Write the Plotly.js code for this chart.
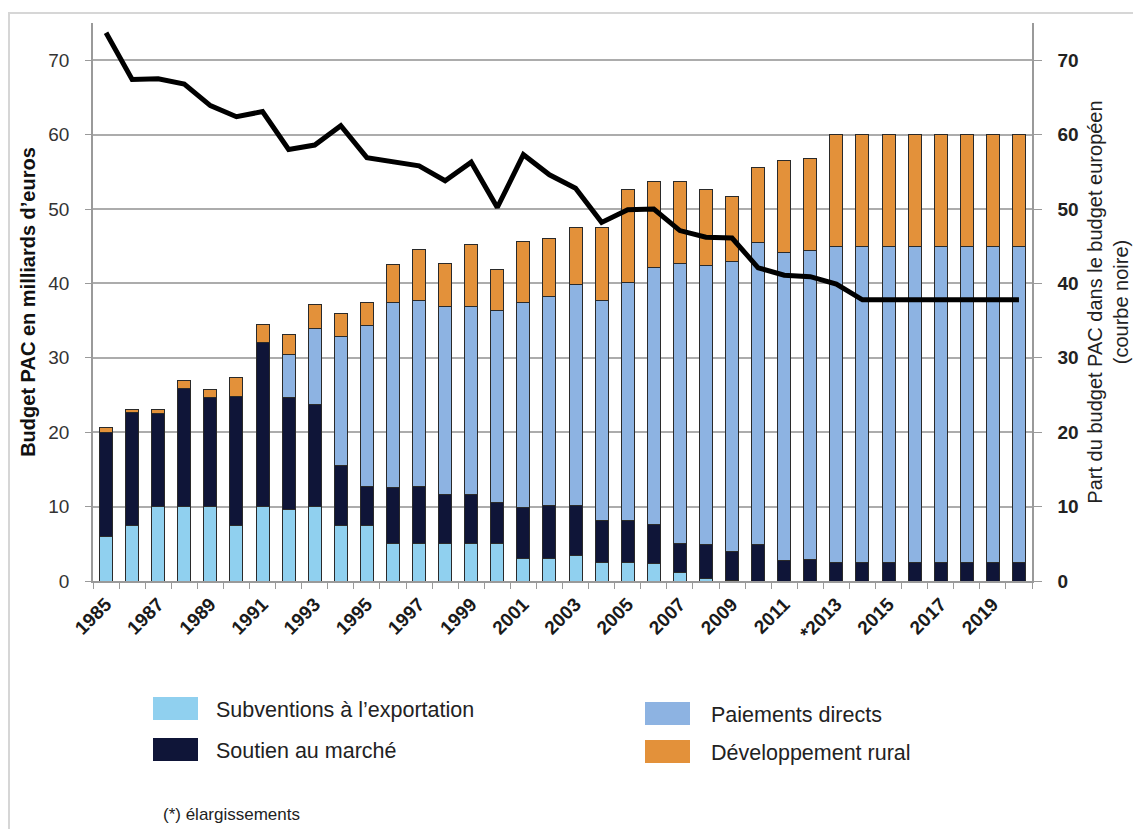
<!DOCTYPE html>
<html>
<head>
<meta charset="utf-8">
<script src="https://cdn.plot.ly/plotly-3.0.1.min.js"></script>
<style>
html, body { margin: 0; padding: 0; background: #ffffff; }
#chart { width: 1133px; height: 829px; }
</style>
</head>
<body>
<div id="chart"></div>
<script>
// ---------- DATA ----------
const years = [1985, 1986, 1987, 1988, 1989, 1990, 1991, 1992, 1993, 1994, 1995, 1996,
               1997, 1998, 1999, 2000, 2001, 2002, 2003, 2004, 2005, 2006, 2007, 2008,
               2009, 2010, 2011, 2012, 2013, 2014, 2015, 2016, 2017, 2018, 2019, 2020];

const tickYears = [1985, 1987, 1989, 1991, 1993, 1995, 1997, 1999, 2001, 2003,
                   2005, 2007, 2009, 2011, 2013, 2015, 2017, 2019];
const tickLabels = ["1985", "1987", "1989", "1991", "1993", "1995", "1997", "1999", "2001", "2003",
                    "2005", "2007", "2009", "2011", "*2013", "2015", "2017", "2019"];

// Subventions à l'exportation (milliards d'euros)
const exportSubsidies = [6.0, 7.5, 10.0, 10.0, 10.0, 7.5, 10.0, 9.6, 10.0, 7.5, 7.5, 5.0,
                         5.0, 5.0, 5.0, 5.0, 3.0, 3.0, 3.4, 2.5, 2.5, 2.3, 1.2, 0.3,
                         0.1, 0, 0, 0, 0, 0, 0, 0, 0, 0, 0, 0];
// Soutien au marché
const marketSupport = [14.0, 15.1, 12.5, 15.9, 14.7, 17.3, 22.1, 15.1, 13.7, 8.0, 5.2, 7.6,
                       7.7, 6.6, 6.6, 5.5, 6.9, 7.1, 6.7, 5.6, 5.6, 5.3, 3.8, 4.6,
                       3.8, 4.9, 2.7, 2.9, 2.5, 2.5, 2.5, 2.5, 2.5, 2.5, 2.5, 2.5];
// Paiements directs
const directPayments = [0, 0, 0, 0, 0, 0, 0, 5.8, 10.2, 17.3, 21.7, 24.8,
                        25.0, 25.3, 25.3, 25.9, 27.5, 28.1, 29.8, 29.6, 32.0, 34.5, 37.7, 37.5,
                        39.0, 40.6, 41.4, 41.5, 42.5, 42.5, 42.5, 42.5, 42.5, 42.5, 42.5, 42.5];
// Développement rural
const ruralDevelopment = [0.6, 0.4, 0.6, 1.0, 1.1, 2.5, 2.4, 2.6, 3.3, 3.2, 3.0, 5.1,
                          6.9, 5.8, 8.3, 5.5, 8.2, 7.8, 7.6, 9.8, 12.5, 11.6, 11.0, 10.2,
                          8.8, 10.1, 12.4, 12.4, 15.0, 15.0, 15.0, 15.0, 15.0, 15.0, 15.0, 15.0];
// Part du budget PAC dans le budget européen (%)
const capShare = [73.7, 67.4, 67.5, 66.8, 63.9, 62.4, 63.1, 58.0, 58.6, 61.2, 56.9, 56.3,
                  55.8, 53.8, 56.3, 50.2, 57.3, 54.6, 52.8, 48.2, 49.9, 50.0, 47.1, 46.2,
                  46.1, 42.1, 41.1, 40.9, 39.9, 37.8, 37.8, 37.8, 37.8, 37.8, 37.8, 37.8];

const yTicks = [0, 10, 20, 30, 40, 50, 60, 70];

const seriesNames = ["Subventions à l’exportation", "Soutien au marché",
                     "Paiements directs", "Développement rural"];
const seriesColors = ["#90d0ef", "#0f1538", "#8db3e2", "#e3913a"];
const seriesValues = [exportSubsidies, marketSupport, directPayments, ruralDevelopment];

const footnote = "(*) élargissements";
const leftTitle = "Budget PAC en milliards d’euros";
const rightTitle = "Part du budget PAC dans le budget européen<br>(courbe noire)";

// ---------- LAYOUT HELPERS (pixel -> paper) ----------
const W = 1133, H = 829;
const PL = 93, PR = 1032, PT = 23, PB = 581;
const px = x => (x - PL) / (PR - PL);
const py = y => (PB - y) / (PB - PT);
const FONT = "Liberation Sans, Arial, Helvetica, sans-serif";

// ---------- TRACES ----------
const traces = seriesValues.map((vals, i) => ({
  type: "bar",
  x: years,
  y: vals,
  name: seriesNames[i],
  marker: { color: seriesColors[i], line: { color: "#2a2a2a", width: 1 } },
  showlegend: false,
  hoverinfo: "x+y+name"
}));

traces.push({
  type: "scatter",
  mode: "lines",
  x: years,
  y: capShare,
  yaxis: "y2",
  name: "Part du budget PAC",
  line: { color: "#000000", width: 5, shape: "linear" },
  showlegend: false
});

// ---------- MANUAL LEGEND ----------
const legendPos = [
  { sx: 153, sy: 697, tx: 214, ty: 710 },
  { sx: 153, sy: 738, tx: 214, ty: 751 },
  { sx: 645, sy: 702, tx: 709, ty: 715 },
  { sx: 645, sy: 740, tx: 709, ty: 753 }
];
const shapes = [];
const annotations = [];
legendPos.forEach((p, i) => {
  shapes.push({
    type: "rect", xref: "paper", yref: "paper",
    x0: px(p.sx), x1: px(p.sx + 45), y0: py(p.sy), y1: py(p.sy + 23),
    fillcolor: seriesColors[i], line: { width: 0 }
  });
  annotations.push({
    xref: "paper", yref: "paper", x: px(p.tx), y: py(p.ty),
    xanchor: "left", yanchor: "middle", showarrow: false,
    text: seriesNames[i], font: { family: FONT, size: 21.5, color: "#222222" }
  });
});
annotations.push({
  xref: "paper", yref: "paper", x: px(161), y: py(814),
  xanchor: "left", yanchor: "middle", showarrow: false,
  text: footnote, font: { family: FONT, size: 17, color: "#222222" }
});
// outer frame
shapes.push({
  type: "rect", xref: "paper", yref: "paper", layer: "below",
  x0: px(9), x1: px(1160), y0: py(860), y1: py(13),
  line: { color: "#d6d6d6", width: 2 }, fillcolor: "rgba(0,0,0,0)"
});

const layout = {
  width: W, height: H,
  margin: { l: PL, r: W - PR, t: PT, b: H - PB, pad: 0 },
  paper_bgcolor: "#ffffff",
  plot_bgcolor: "#ffffff",
  font: { family: FONT, color: "#222222" },
  barmode: "stack",
  bargap: 0.5,
  showlegend: false,
  xaxis: {
    range: [1984.5, 2020.5],
    tickmode: "array",
    tickvals: tickYears,
    ticktext: tickLabels,
    tickangle: -45,
    tickfont: { family: FONT, size: 19, color: "#1a1a1a", weight: "bold" },
    ticks: "outside", ticklen: 3, tickcolor: "rgba(0,0,0,0)",
    minor: { tick0: 1984.5, dtick: 1, ticks: "outside", ticklen: 6, tickcolor: "#9a9a9a", tickwidth: 1, showgrid: false },
    showline: true, linecolor: "#9a9a9a", linewidth: 1.5,
    showgrid: false, zeroline: false, fixedrange: true
  },
  yaxis: {
    range: [0, 75],
    tickmode: "array",
    tickvals: yTicks,
    ticks: "outside", ticklen: 6, tickcolor: "#9a9a9a",
    ticklabelstandoff: 12,
    tickfont: { family: FONT, size: 19, color: "#333333" },
    showline: true, linecolor: "#9a9a9a", linewidth: 1.5,
    showgrid: true, gridcolor: "#acacac", gridwidth: 1.5,
    zeroline: false, fixedrange: true,
    title: { text: leftTitle, font: { family: FONT, size: 20, color: "#111111", weight: "bold" }, standoff: 7 }
  },
  yaxis2: {
    overlaying: "y",
    side: "right",
    range: [0, 75],
    tickmode: "array",
    tickvals: yTicks,
    ticks: "outside", ticklen: 8, tickcolor: "#9a9a9a",
    ticklabelstandoff: 12,
    tickfont: { family: FONT, size: 19, color: "#222222", weight: "bold" },
    showline: true, linecolor: "#9a9a9a", linewidth: 1.5,
    showgrid: false, zeroline: false, fixedrange: true,
    title: { text: rightTitle, font: { family: FONT, size: 20, color: "#222222" }, standoff: 10 }
  },
  shapes: shapes,
  annotations: annotations
};

Plotly.newPlot("chart", traces, layout, { displayModeBar: false, responsive: false, staticPlot: false });
</script>
</body>
</html>
